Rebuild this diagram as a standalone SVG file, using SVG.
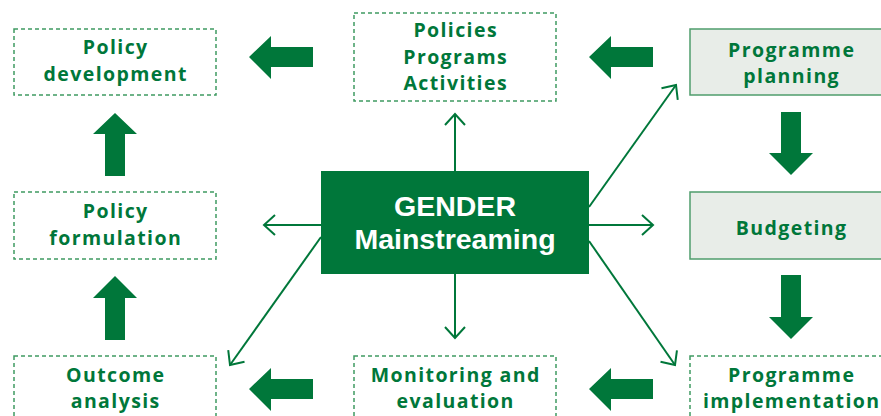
<svg xmlns="http://www.w3.org/2000/svg" width="881" height="416" viewBox="0 0 881 416">
<defs>
<style>
.dash{fill:#ffffff;stroke:#3f9a62;stroke-width:1.5;stroke-dasharray:4 3}
.solid{fill:#e8ede8;stroke:#4f9d6c;stroke-width:1.5}
.lbl{font-family:"Open Sans","Liberation Sans",Arial,sans-serif;font-weight:bold;font-size:19.5px;letter-spacing:1.4px;fill:#00773a;text-anchor:middle}
.big{font-family:"Liberation Sans",Arial,sans-serif;font-weight:bold;font-size:28.5px;fill:#ffffff;text-anchor:middle}
.thin{stroke:#00773a;stroke-width:2;fill:none}
.block{fill:#00773a}
</style>
<marker id="ah" markerUnits="userSpaceOnUse" markerWidth="30" markerHeight="30" viewBox="-15 -15 30 30" refX="0" refY="0" orient="auto">
<path d="M-11,-10 L0,0 L-11,10" fill="none" stroke="#00773a" stroke-width="2"/>
</marker>
</defs>
<rect width="881" height="416" fill="#ffffff"/>

<g id="policy-development">
<rect class="dash" x="14" y="29" width="202" height="66"/>
<text class="lbl" x="115.7" y="54">Policy</text>
<text class="lbl" x="115.7" y="81">development</text>
</g>

<g id="policies-programs-activities">
<rect class="dash" x="354" y="13" width="202" height="88"/>
<text class="lbl" x="455.7" y="37">Policies</text>
<text class="lbl" x="455.7" y="64">Programs</text>
<text class="lbl" x="455.7" y="90">Activities</text>
</g>

<g id="programme-planning">
<rect class="solid" x="690" y="29" width="202" height="66"/>
<text class="lbl" x="791.7" y="57">Programme</text>
<text class="lbl" x="791.7" y="83">planning</text>
</g>

<g id="policy-formulation">
<rect class="dash" x="14" y="192" width="202" height="67"/>
<text class="lbl" x="115.7" y="218">Policy</text>
<text class="lbl" x="115.7" y="245">formulation</text>
</g>

<g id="gender-mainstreaming">
<rect x="321" y="171" width="268" height="103" fill="#00773a"/>
<text class="big" x="455" y="216">GENDER</text>
<text class="big" x="455" y="249">Mainstreaming</text>
</g>

<g id="budgeting">
<rect class="solid" x="690" y="192" width="202" height="67"/>
<text class="lbl" x="791.7" y="235">Budgeting</text>
</g>

<g id="outcome-analysis">
<rect class="dash" x="14" y="356" width="202" height="80"/>
<text class="lbl" x="115.7" y="382">Outcome</text>
<text class="lbl" x="115.7" y="408">analysis</text>
</g>

<g id="monitoring-evaluation">
<rect class="dash" x="354" y="356" width="202" height="80"/>
<text class="lbl" x="455.7" y="382">Monitoring and</text>
<text class="lbl" x="455.7" y="408">evaluation</text>
</g>

<g id="programme-implementation">
<rect class="dash" x="690" y="356" width="202" height="80"/>
<text class="lbl" x="791.7" y="382">Programme</text>
<text class="lbl" x="791.7" y="408">implementation</text>
</g>

<g id="connectors">
<g id="thin-arrows">
<line class="thin" x1="455" y1="171" x2="455" y2="114" marker-end="url(#ah)"/>
<line class="thin" x1="455" y1="274" x2="455" y2="338" marker-end="url(#ah)"/>
<line class="thin" x1="321" y1="225" x2="264" y2="225" marker-end="url(#ah)"/>
<line class="thin" x1="589" y1="225" x2="653" y2="225" marker-end="url(#ah)"/>
<line class="thin" x1="589" y1="207" x2="676" y2="85" marker-end="url(#ah)"/>
<line class="thin" x1="589" y1="241" x2="675" y2="365" marker-end="url(#ah)"/>
<line class="thin" x1="321" y1="237" x2="230" y2="365" marker-end="url(#ah)"/>
</g>
<g id="block-arrows">
<polygon class="block" points="249,57 271,36 271,47 313,47 313,67 271,67 271,79"/>
<polygon class="block" points="589,57 611,36 611,47 653,47 653,67 611,67 611,79"/>
<polygon class="block" points="249,389 271,368 271,379 313,379 313,399 271,399 271,411"/>
<polygon class="block" points="589,389 611,368 611,379 653,379 653,399 611,399 611,411"/>
<polygon class="block" points="115,113 137,134 125,134 125,176 105,176 105,134 93,134"/>
<polygon class="block" points="115,276 137,298 125,298 125,340 105,340 105,298 93,298"/>
<polygon class="block" points="791,175 813,153 801,153 801,112 781,112 781,153 769,153"/>
<polygon class="block" points="791,339 813,317 801,317 801,275 781,275 781,317 769,317"/>
</g>
</g>
</svg>
